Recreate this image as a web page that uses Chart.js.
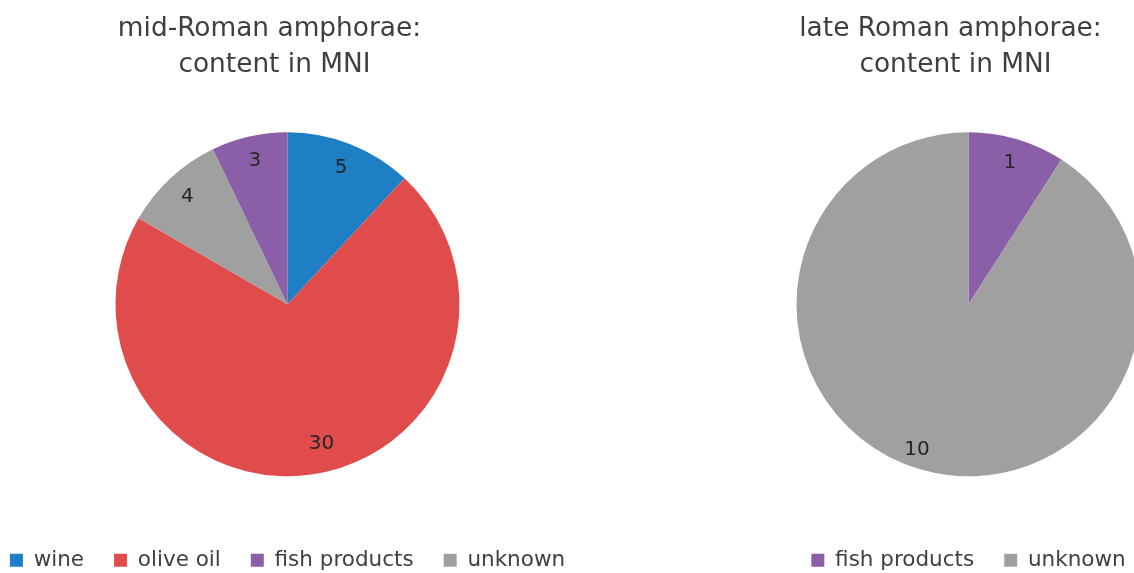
<!DOCTYPE html>
<html>
<head>
<meta charset="utf-8">
<script src="https://cdn.jsdelivr.net/npm/chart.js@4.4.1/dist/chart.umd.min.js"></script>
<style>
  html, body { margin: 0; padding: 0; background: #ffffff; overflow: hidden; width: 1134px; height: 573px; position: relative; }
  canvas { position: absolute; top: 0; }
  #midChart { left: -100px; }
  #lateChart { left: 681px; }
</style>
</head>
<body>
<canvas id="midChart" width="775" height="581"></canvas>
<canvas id="lateChart" width="575" height="581"></canvas>
<script>
// Minimum number of individuals per content type
const midCategories = ['wine', 'olive oil', 'unknown', 'fish products'];
const midValues = [5, 30, 4, 3];
const lateCategories = ['fish products', 'unknown'];
const lateValues = [1, 10];
const legendOrder = ['wine', 'olive oil', 'fish products', 'unknown'];
const midTitle = ['mid-Roman amphorae:', 'content in MNI'];
const lateTitle = ['late Roman amphorae:', 'content in MNI'];

const contentColors = {
  'wine': '#1F7FC4',
  'olive oil': '#E04C4C',
  'fish products': '#8B5FA8',
  'unknown': '#A0A0A0'
};
const FONT = '"DejaVu Sans", Verdana, sans-serif';

// Two-line heading drawn above the pie
const headingPlugin = {
  id: 'heading',
  afterDraw(chart, args, opts) {
    const ctx = chart.ctx;
    const cx = chart.getDatasetMeta(0).data[0].x;
    ctx.save();
    ctx.font = '26.4px ' + FONT;
    ctx.fillStyle = '#3f3f3f';
    ctx.textAlign = 'center';
    ctx.textBaseline = 'alphabetic';
    opts.lines.forEach((t, i) => ctx.fillText(t, cx + opts.shift[i], opts.baselines[i]));
    ctx.restore();
  }
};

// Slice values written inside each slice (nudges keep them clear like a best-fit layout)
const valueLabels = {
  id: 'valueLabels',
  afterDatasetsDraw(chart, args, opts) {
    const ctx = chart.ctx;
    const meta = chart.getDatasetMeta(0);
    const vals = chart.data.datasets[0].data;
    const nudge = opts.nudge || {};
    ctx.save();
    ctx.font = '20px ' + FONT;
    ctx.fillStyle = '#262626';
    ctx.textAlign = 'center';
    ctx.textBaseline = 'middle';
    meta.data.forEach((arc, i) => {
      const p = arc.getProps(['x', 'y', 'startAngle', 'endAngle', 'outerRadius'], true);
      const mid = (p.startAngle + p.endAngle) / 2;
      const r = p.outerRadius * 0.855;
      const n = nudge[i] || [0, 0];
      ctx.fillText(String(vals[i]), p.x + Math.cos(mid) * r + n[0], p.y + Math.sin(mid) * r + n[1]);
    });
    ctx.restore();
  }
};

function makePie(id, cats, vals, title, nudge) {
  return new Chart(document.getElementById(id), {
    type: 'pie',
    data: {
      labels: cats,
      datasets: [{
        data: vals,
        backgroundColor: cats.map(c => contentColors[c]),
        borderWidth: 0,
        radius: 172
      }]
    },
    options: {
      responsive: false,
      animation: false,
      layout: { padding: { top: 89, bottom: 0, left: 0, right: 0 } },
      plugins: {
        legend: {
          position: 'bottom',
          align: 'center',
          labels: {
            boxWidth: 13,
            boxHeight: 13,
            padding: 30,
            color: '#404040',
            font: { family: FONT, size: 21.5 },
            sort: (a, b) => legendOrder.indexOf(a.text) - legendOrder.indexOf(b.text)
          }
        },
        tooltip: { enabled: false },
        heading: { lines: title, shift: [-18, -13], baselines: [36, 72] },
        valueLabels: { nudge: nudge }
      }
    },
    plugins: [headingPlugin, valueLabels]
  });
}

makePie('midChart', midCategories, midValues, midTitle, { 1: [12, -6] });
makePie('lateChart', lateCategories, lateValues, lateTitle, { 1: [-10, 4] });
</script>
</body>
</html>
